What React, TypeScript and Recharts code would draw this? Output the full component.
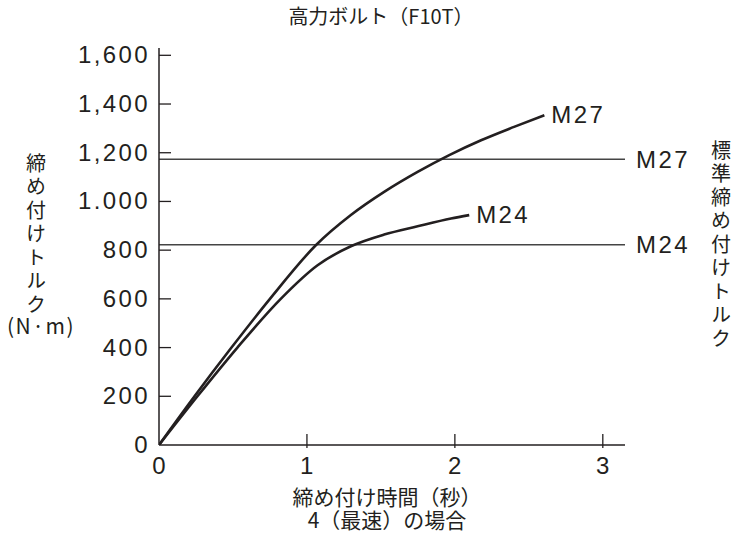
import { LineChart, Line, XAxis, YAxis, ReferenceLine } from 'recharts';

const INK = '#231f20';
const NUM_FONT = '"Liberation Sans", Arial, sans-serif';
const JP_FONT = '"Noto Sans CJK JP", sans-serif';

// 締め付けトルク (N·m) vs 締め付け時間 (秒)
const m27Time = [0, 0.24, 0.49, 0.75, 1.06, 1.297, 1.522, 1.748, 1.962, 2.177, 2.4, 2.605];
const m27Torque = [0, 200, 400, 600, 820, 944, 1039, 1121, 1190, 1251, 1306, 1354];
const m24Time = [0, 0.26, 0.53, 0.823, 1.072, 1.297, 1.522, 1.748, 1.974, 2.097];
const m24Torque = [0, 200, 400, 600, 738, 816, 864, 898, 930, 944];

const standardTorque = [
  { name: 'M27', value: 1173 },
  { name: 'M24', value: 822 },
];

const xTicks = [0, 1, 2, 3];
const yTicks = [0, 200, 400, 600, 800, 1000, 1200, 1400, 1600];
const yTickLabels = ['0', '200', '400', '600', '800', '1.000', '1,200', '1,400', '1,600'];

const title = '高力ボルト（F10T）';
const xTitle = ['締め付け時間（秒）', '4（最速）の場合'];
const yTitle = '締め付けトルク';
const yUnit = '(N·m)';
const rightTitle = '標準締め付けトルク';

const m27 = m27Time.map((x, i) => ({ x, y: m27Torque[i] }));
const m24 = m24Time.map((x, i) => ({ x, y: m24Torque[i] }));

const numText = { fontSize: 24, fontFamily: NUM_FONT, fill: INK, letterSpacing: 2.4 };

const YTick = (props: any) => {
  const { x, y, payload } = props;
  const idx = yTicks.indexOf(payload.value);
  return (
    <g>
      {payload.value !== 0 && (
        <line x1={x + 11} x2={x + 23} y1={y} y2={y} stroke={INK} strokeWidth={1.3} />
      )}
      <text x={x + 2} y={y} dy={8} textAnchor="end" {...numText}>
        {yTickLabels[idx]}
      </text>
    </g>
  );
};

const XTick = (props: any) => {
  const { x, y, payload } = props;
  return (
    <g>
      {payload.value !== 0 && (
        <line x1={x} x2={x} y1={y - 1} y2={y - 15} stroke={INK} strokeWidth={1.3} />
      )}
      <text x={x + 1} y={y} dy={25} textAnchor="middle" {...numText}>
        {payload.value}
      </text>
    </g>
  );
};

const endLabel = (name: string, last: number) => (p: any) => {
  if (p.index !== last) return null;
  return (
    <text x={p.x + 7} y={p.y} dy={8} {...numText}>
      {name}
    </text>
  );
};

const vertical = { writingMode: 'vertical-rl' as const };

export default function App() {
  return (
    <div style={{ position: 'absolute', left: 0, top: 0, width: 734, height: 537, background: '#fff' }}>
      <LineChart
        width={734}
        height={537}
        margin={{ top: 48, right: 109, bottom: 62, left: 99 }}
      >
        <XAxis
          type="number"
          dataKey="x"
          domain={[0, 3.15]}
          ticks={xTicks}
          allowDataOverflow
          height={30}
          tickSize={0}
          tickMargin={4}
          tick={<XTick />}
          axisLine={{ stroke: INK, strokeWidth: 1.5 }}
          tickLine={false}
        />
        <YAxis
          type="number"
          dataKey="y"
          domain={[0, 1630]}
          ticks={yTicks}
          allowDataOverflow
          width={60}
          tickSize={0}
          tickMargin={11}
          tick={<YTick />}
          axisLine={{ stroke: INK, strokeWidth: 1.5 }}
          tickLine={false}
        />
        {standardTorque.map((r) => (
          <ReferenceLine
            key={r.name}
            y={r.value}
            stroke="#444"
            strokeWidth={1.4}
            label={{ value: r.name, position: 'right', offset: 11, ...numText }}
          />
        ))}
        <Line
          data={m27}
          dataKey="y"
          type="monotone"
          stroke={INK}
          strokeWidth={2.6}
          dot={false}
          isAnimationActive={false}
          label={endLabel('M27', m27.length - 1)}
        />
        <Line
          data={m24}
          dataKey="y"
          type="monotone"
          stroke={INK}
          strokeWidth={2.6}
          dot={false}
          isAnimationActive={false}
          label={endLabel('M24', m24.length - 1)}
        />
      </LineChart>
      <svg
        width={734}
        height={537}
        style={{ position: 'absolute', left: 0, top: 0, pointerEvents: 'none' }}
      >
        <text x={381} y={24} textAnchor="middle" fontSize={20} fontFamily={JP_FONT} fill={INK}>
          {title}
        </text>
        {xTitle.map((t, i) => (
          <text key={t} x={387} y={505 + i * 23} textAnchor="middle" fontSize={21} fontFamily={JP_FONT} fill={INK}>
            {t}
          </text>
        ))}
        <text x={36} y={153} fontSize={20} letterSpacing={3.5} fontFamily={JP_FONT} fill={INK} style={vertical}>
          {yTitle}
        </text>
        <text x={41} y={334} textAnchor="middle" fontSize={21} letterSpacing={1.5} fontFamily={JP_FONT} fill={INK}>
          {yUnit}
        </text>
        <text x={721} y={140} fontSize={20} letterSpacing={3.5} fontFamily={JP_FONT} fill={INK} style={vertical}>
          {rightTitle}
        </text>
      </svg>
    </div>
  );
}
